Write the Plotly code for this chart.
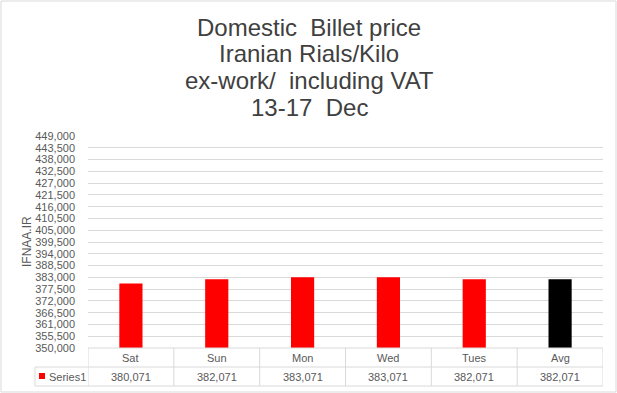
import plotly.graph_objects as go

categories = ["Sat", "Sun", "Mon", "Wed", "Tues", "Avg"]
values = [380071, 382071, 383071, 383071, 382071, 382071]
series_name = "Series1"
title_lines = ["Domestic  Billet price", "Iranian Rials/Kilo", "ex-work/  including VAT", "13-17  Dec"]
y_title = "IFNAA.IR"
y_min, y_max, y_step = 350000, 449000, 5500

W, H = 617, 393
L, R, T, B = 88, 603, 136, 348
PW, PH = R - L, B - T

def px(x):
    return (x - L) / PW

def py(y):
    return (B - y) / PH

bar_colors = ["#FF0000"] * (len(categories) - 1) + ["#000000"]

fig = go.Figure()
fig.add_trace(go.Bar(
    x=categories, y=values, name=series_name,
    marker=dict(color=bar_colors, line=dict(width=0)),
    width=0.27,
))

grid = "#D9D9D9"
shapes = []
shapes.append(dict(type="rect", xref="paper", yref="paper",
                   x0=px(1), x1=px(616), y0=py(392), y1=py(1),
                   line=dict(color="#D9D9D9", width=1), fillcolor="rgba(0,0,0,0)", layer="below"))
for yy, x0 in [(348, L), (367, 35), (386, 35)]:
    shapes.append(dict(type="line", xref="paper", yref="paper",
                       x0=px(x0), x1=px(R), y0=py(yy), y1=py(yy),
                       line=dict(color=grid, width=1)))
n = len(categories)
for i in range(n + 1):
    shapes.append(dict(type="line", xref="x", yref="paper",
                       x0=i - 0.5, x1=i - 0.5, y0=py(386), y1=py(348),
                       line=dict(color=grid, width=1)))
shapes.append(dict(type="line", xref="paper", yref="paper",
                   x0=px(35), x1=px(35), y0=py(386), y1=py(367),
                   line=dict(color=grid, width=1)))
shapes.append(dict(type="rect", xref="paper", yref="paper",
                   x0=px(39), x1=px(45), y0=py(379), y1=py(373),
                   fillcolor="#FF0000", line=dict(width=0)))

annotations = []
font_c = dict(family="Liberation Sans, Arial", size=11, color="#595959")
for c, v in zip(categories, values):
    annotations.append(dict(x=c, xref="x", yref="paper", y=py(357.5), text=c,
                            showarrow=False, font=font_c, xanchor="center", yanchor="middle"))
    annotations.append(dict(x=c, xref="x", yref="paper", y=py(376.5), text=f"{v:,}",
                            showarrow=False, font=font_c, xanchor="center", yanchor="middle"))
annotations.append(dict(x=px(47), xref="paper", yref="paper", y=py(376.5), text=series_name,
                        showarrow=False, font=font_c, xanchor="left", yanchor="middle"))
annotations.append(dict(x=px(27), xref="paper", yref="paper", y=py(242), text=y_title,
                        showarrow=False, font=dict(family="Liberation Sans, Arial", size=12, color="#595959"),
                        textangle=-90, xanchor="center", yanchor="middle"))
title_font = dict(family="Liberation Sans, Arial", size=24, color="#404040")
for i, line in enumerate(title_lines):
    annotations.append(dict(x=px(309), xref="paper", y=py(27 + 26.7 * i), yref="paper",
                            text=line.replace("  ", "&nbsp; "),
                            showarrow=False, xanchor="center", yanchor="middle",
                            font=title_font))

fig.update_layout(
    width=W, height=H,
    margin=dict(l=L, r=W - R, t=T, b=H - B, pad=0),
    paper_bgcolor="white", plot_bgcolor="white",
    showlegend=False,
    shapes=shapes, annotations=annotations,
    xaxis=dict(showticklabels=False, showgrid=False, zeroline=False, showline=False,
               range=[-0.5, n - 0.5], fixedrange=True),
    yaxis=dict(range=[y_min, y_max], tick0=y_min, dtick=y_step, tickformat=",",
               showgrid=True, gridcolor=grid, gridwidth=1, zeroline=False, showline=False,
               tickfont=dict(family="Liberation Sans, Arial", size=11, color="#595959"),
               ticks="", ticklen=0, ticklabelstandoff=12),
)

fig.write_html("out.html")
